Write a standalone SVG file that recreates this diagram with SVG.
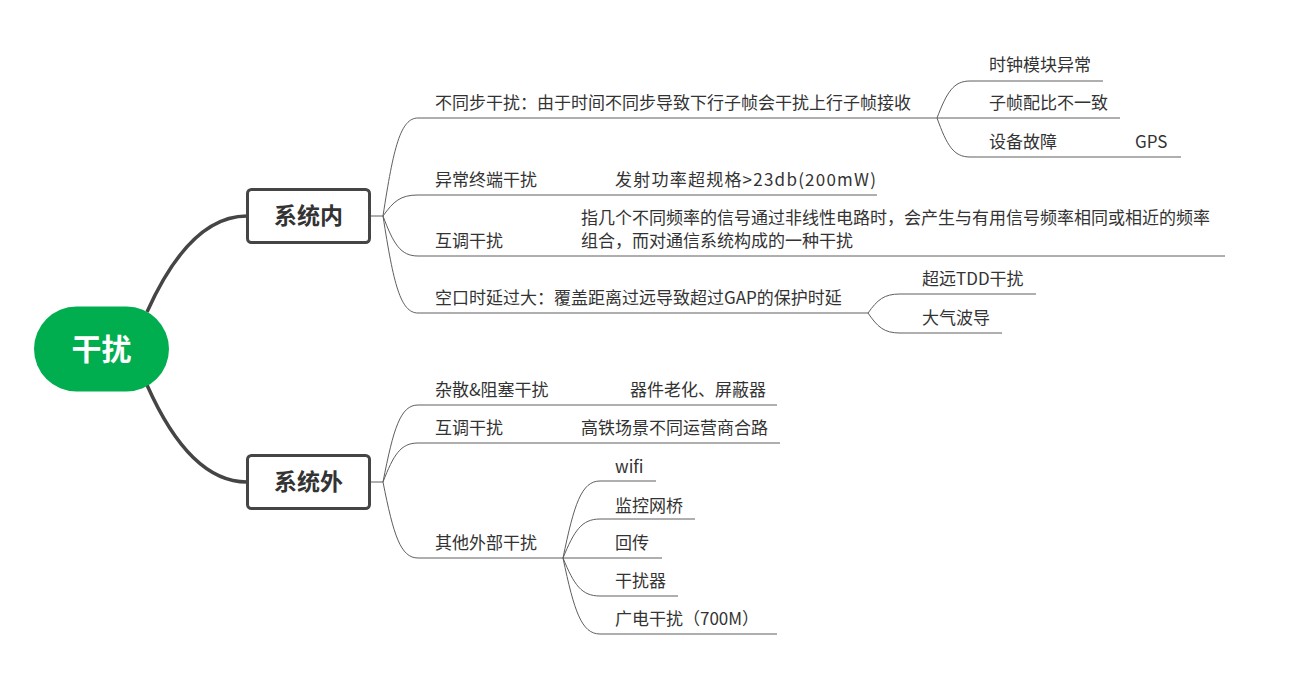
<svg xmlns="http://www.w3.org/2000/svg" width="1299" height="677" viewBox="0 0 1299 677">
<style>
.t{font-family:"Noto Sans CJK SC","Microsoft YaHei",sans-serif;font-size:17px;fill:#333}
.m{font-family:"Noto Sans CJK SC",sans-serif;font-size:23px;font-weight:bold;fill:#333;text-anchor:middle}
.box{fill:#fff;stroke:#454545;stroke-width:3}
.thin{fill:none;stroke:#5e5e5e;stroke-width:1}
.thick{fill:none;stroke:#454545;stroke-width:3.5}
</style>
<rect width="1299" height="677" fill="#fff"/>
<g id="connectors">
<path class="thick" d="M147,312 Q190,216 247,216"/>
<path class="thick" d="M147,385 Q190,482 247,482"/>
<path class="thin" d="M370,216 H383"/>
<path class="thin" d="M383,216 C393.5,147.4 400.5,118 418,118 H937"/>
<path class="thin" d="M383,216 C393.5,201.3 400.5,195 418,195 H877"/>
<path class="thin" d="M383,216 C393.5,244 400.5,256 418,256 H1225"/>
<path class="thin" d="M383,216 C393.5,283.9 400.5,313 418,313 H868"/>
<path class="thin" d="M937,118 C946.9,92.1 953.5,81 970,81 H1103"/>
<path class="thin" d="M937,118 H1120"/>
<path class="thin" d="M937,118 C946.9,145.3 953.5,157 970,157 H1181"/>
<path class="thin" d="M868,313 C877.6,299.7 884,294 900,294 H1036"/>
<path class="thin" d="M868,313 C877.6,327 884,333 900,333 H1002"/>
<path class="thin" d="M370,482 H383"/>
<path class="thin" d="M383,482 C393.5,428.1 400.5,405 418,405 H777"/>
<path class="thin" d="M383,482 C393.5,455 400.5,443 418,443 H780"/>
<path class="thin" d="M383,482 C393.5,535 400.5,558 418,558 H563"/>
<path class="thin" d="M563,558 C574.1,504.1 581.5,481 600,481 H656"/>
<path class="thin" d="M563,558 C574.1,531 581.5,519 600,519 H695"/>
<path class="thin" d="M563,558 H662"/>
<path class="thin" d="M563,558 C574.1,585 581.5,596 600,596 H678"/>
<path class="thin" d="M563,558 C574.1,611 581.5,634 600,634 H777"/>
</g>
<g id="root">
<rect x="34" y="306.5" width="135" height="85" rx="42.5" fill="#00AE50"/>
<text x="101.5" y="360" font-family="&quot;Noto Sans CJK SC&quot;,sans-serif" font-size="30" font-weight="bold" fill="#fff" text-anchor="middle">干扰</text>
</g>
<g id="n-inner">
<rect class="box" x="247.5" y="189.5" width="122" height="53" rx="4"/>
<text class="m" x="308.5" y="224">系统内</text>
</g>
<g id="n-outer">
<rect class="box" x="247.5" y="455.5" width="122" height="53" rx="4"/>
<text class="m" x="308.5" y="490">系统外</text>
</g>
<g id="n-async"><text class="t" x="435" y="109">不同步干扰：由于时间不同步导致下行子帧会干扰上行子帧接收</text></g>
<g id="n-clock"><text class="t" x="989" y="71">时钟模块异常</text></g>
<g id="n-frame"><text class="t" x="989" y="109">子帧配比不一致</text></g>
<g id="n-fault"><text class="t" x="989" y="148">设备故障</text><text class="t" x="1135" y="148">GPS</text></g>
<g id="n-abnormal"><text class="t" x="435" y="186">异常终端干扰</text><text class="t" x="615" y="186" textLength="261" lengthAdjust="spacing">发射功率超规格&gt;23db(200mW)</text></g>
<g id="n-im1"><text class="t" x="435" y="247">互调干扰</text>
<text class="t" x="581" y="224">指几个不同频率的信号通过非线性电路时，会产生与有用信号频率相同或相近的频率</text>
<text class="t" x="581" y="247">组合，而对通信系统构成的一种干扰</text></g>
<g id="n-delay"><text class="t" x="435" y="304">空口时延过大：覆盖距离过远导致超过GAP的保护时延</text></g>
<g id="n-tdd"><text class="t" x="922" y="285">超远TDD干扰</text></g>
<g id="n-duct"><text class="t" x="922" y="324">大气波导</text></g>
<g id="n-spur"><text class="t" x="435" y="396">杂散&amp;阻塞干扰</text><text class="t" x="630" y="396">器件老化、屏蔽器</text></g>
<g id="n-im2"><text class="t" x="435" y="434">互调干扰</text><text class="t" x="581" y="434">高铁场景不同运营商合路</text></g>
<g id="n-other"><text class="t" x="435" y="549">其他外部干扰</text></g>
<g id="n-wifi"><text class="t" x="615" y="473">wifi</text></g>
<g id="n-bridge"><text class="t" x="615" y="512">监控网桥</text></g>
<g id="n-back"><text class="t" x="615" y="549">回传</text></g>
<g id="n-jammer"><text class="t" x="615" y="587">干扰器</text></g>
<g id="n-tv"><text class="t" x="615" y="625">广电干扰（700M）</text></g>
</svg>
